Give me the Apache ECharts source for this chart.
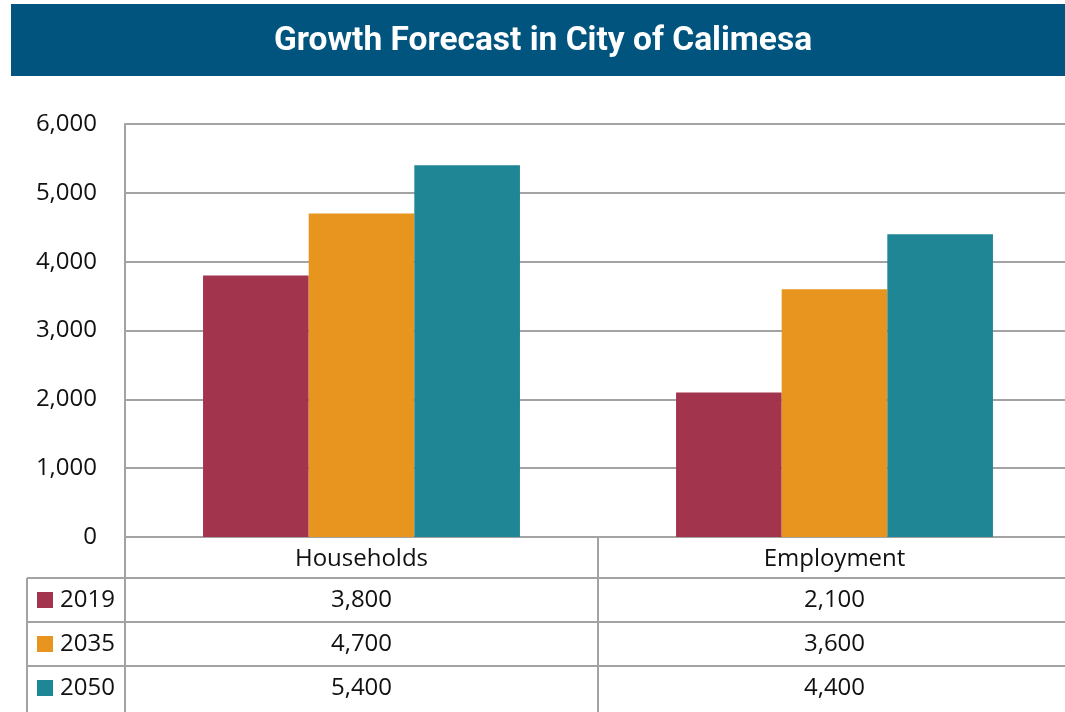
<!DOCTYPE html>
<html>
<head>
<meta charset="utf-8">
<title>Growth Forecast in City of Calimesa</title>
<script src="https://cdn.jsdelivr.net/npm/echarts@6/dist/echarts.min.js"></script>
<style>
  html, body { margin: 0; padding: 0; background: #fff; }
  #chart { width: 1065px; height: 712px; }
</style>
</head>
<body>
<div id="chart"></div>
<script>
// data
var categories = ["Households", "Employment"];
var seriesNames = ["2019", "2035", "2050"];
var values2019 = [3800, 2100];
var values2035 = [4700, 3600];
var values2050 = [5400, 4400];
var yTicks = [0, 1000, 2000, 3000, 4000, 5000, 6000];

var allValues = [values2019, values2035, values2050];
var colors = ["#a2354d", "#e8951f", "#1e8695"];

// layout
var GRID_LEFT = 125, GRID_TOP = 124, GRID_WIDTH = 946, GRID_BOTTOM = 175;
var W = 1065, H = 712;
var ROW_H = 44, CAT_ROW = 41, TABLE_LEFT = 27;
var LINE_COLOR = "#a3a3a3";
var FONT = "'Open Sans', 'Noto Sans', sans-serif";
var FS = 24;

function fmt(v) {
  return Number(v).toLocaleString("en-US");
}

var chart = echarts.init(document.getElementById("chart"));

var xAxes = [{
  type: "category",
  data: categories,
  position: "bottom",
  axisLine: { lineStyle: { color: LINE_COLOR, width: 2 } },
  axisTick: { show: true, length: GRID_BOTTOM, interval: 0, lineStyle: { color: LINE_COLOR, width: 2 } },
  axisLabel: { color: "#111", fontSize: FS, fontFamily: FONT, verticalAlign: "middle", margin: 22 }
}];
// value rows of the data table, one label-only axis per year
allValues.forEach(function (arr, i) {
  xAxes.push({
    type: "category",
    data: categories,
    position: "bottom",
    offset: CAT_ROW + ROW_H * i,
    axisLine: { show: false },
    axisTick: { show: false },
    axisLabel: {
      color: "#111", fontSize: FS, fontFamily: FONT, verticalAlign: "middle", margin: 22,
      formatter: function (v, idx) { return fmt(arr[idx]); }
    }
  });
});

// banner + table rules
var graphics = [
  { type: "rect", shape: { x: 11, y: 4, width: W, height: 72 }, style: { fill: "#01547e" }, silent: true },
  { type: "text", x: 543, y: 42, style: {
      text: "Growth Forecast in City of Calimesa", fill: "#fff",
      font: "bold 33.5px Roboto, 'DejaVu Sans', sans-serif", textAlign: "center", textVerticalAlign: "middle" } }
];
var tableTop = H - GRID_BOTTOM;
for (var r = 0; r < 3; r++) {
  var y = tableTop + CAT_ROW + ROW_H * r;
  graphics.push({ type: "line", shape: { x1: TABLE_LEFT, y1: y, x2: W, y2: y },
    style: { stroke: LINE_COLOR, lineWidth: 2 }, silent: true });
}
graphics.push({ type: "line", shape: { x1: TABLE_LEFT, y1: tableTop + CAT_ROW, x2: TABLE_LEFT, y2: H },
  style: { stroke: LINE_COLOR, lineWidth: 2 }, silent: true });

var option = {
  animation: false,
  color: colors,
  textStyle: { fontFamily: FONT },
  grid: {
    left: GRID_LEFT, top: GRID_TOP, width: GRID_WIDTH, bottom: GRID_BOTTOM,
    containLabel: false, outerBoundsMode: "none"
  },
  legend: {
    data: seriesNames,
    orient: "vertical",
    left: 37,
    top: tableTop + CAT_ROW + 10,
    height: 150,
    itemWidth: 16,
    itemHeight: 16,
    itemGap: 20,
    padding: 0,
    icon: "rect",
    textStyle: { color: "#111", fontSize: FS, fontFamily: FONT, lineHeight: 24, padding: [0, 0, 0, 2] }
  },
  xAxis: xAxes,
  yAxis: {
    type: "value",
    min: yTicks[0],
    max: yTicks[yTicks.length - 1],
    interval: 1000,
    axisLine: { show: true, lineStyle: { color: LINE_COLOR, width: 2 } },
    axisTick: { show: false },
    splitLine: { lineStyle: { color: LINE_COLOR, width: 2 } },
    axisLabel: { color: "#111", fontSize: FS, fontFamily: FONT, margin: 28, formatter: fmt }
  },
  series: seriesNames.map(function (name, i) {
    return {
      name: name,
      type: "bar",
      data: allValues[i],
      barGap: "0%",
      barCategoryGap: "33%"
    };
  }),
  graphic: graphics
};

chart.setOption(option);
</script>
</body>
</html>
